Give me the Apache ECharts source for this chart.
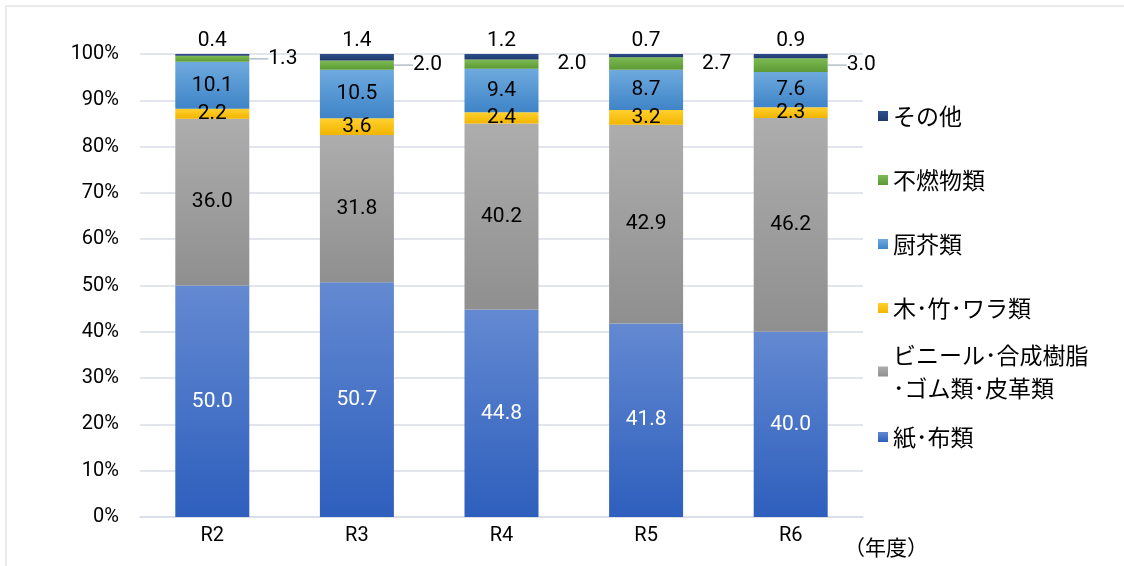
<!DOCTYPE html>
<html>
<head>
<meta charset="utf-8">
<script src="https://cdn.jsdelivr.net/npm/echarts@6/dist/echarts.min.js"></script>
<style>
html, body { margin: 0; padding: 0; background: #fff; }
#main { width: 1124px; height: 566px; }
</style>
</head>
<body>
<div id="main"></div>
<script>
// 年度別ごみ組成（%）
var years = ['R2', 'R3', 'R4', 'R5', 'R6'];
var kamiNuno  = [50.0, 50.7, 44.8, 41.8, 40.0];
var vinyl     = [36.0, 31.8, 40.2, 42.9, 46.2];
var mokuChiku = [2.2, 3.6, 2.4, 3.2, 2.3];
var chukai    = [10.1, 10.5, 9.4, 8.7, 7.6];
var funen     = [1.3, 2.0, 2.0, 2.7, 3.0];
var sonota    = [0.4, 1.4, 1.2, 0.7, 0.9];

var vinylName = 'ビニール･合成樹脂\n･ゴム類･皮革類';

function grad(top, bottom) {
    return new echarts.graphic.LinearGradient(0, 0, 0, 1, [
        {offset: 0, color: top},
        {offset: 1, color: bottom}
    ]);
}

function fmt(p) {
    return Number(p.value).toFixed(1);
}

var dom = document.getElementById('main');
var myChart = echarts.init(dom);
var labelFont = {fontFamily: 'Roboto, sans-serif', fontSize: 21, color: '#000', formatter: fmt};
var legendFont = {fontFamily: '"Noto Sans CJK JP", sans-serif', fontSize: 23, color: '#000'};

function bar(name, data, top, bottom, label) {
    return {
        name: name,
        type: 'bar',
        stack: 'total',
        barWidth: 74,
        itemStyle: {color: grad(top, bottom)},
        label: label,
        data: data
    };
}

var option = {
    animation: false,
    textStyle: {fontFamily: 'Roboto, "Noto Sans CJK JP", sans-serif'},
    graphic: [{
        type: 'rect',
        shape: {x: 6, y: 6, width: 1200, height: 600},
        style: {fill: 'none', stroke: '#e2e5ea', lineWidth: 1.5},
        silent: true
    }],
    grid: {left: 140, right: 261, top: 54, bottom: 49},
    legend: [
        {
            data: ['その他', '不燃物類', '厨芥類', '木･竹･ワラ類'],
            orient: 'vertical', left: 878, top: 104, padding: 0,
            itemGap: 40, itemWidth: 10, itemHeight: 10, icon: 'rect',
            textStyle: Object.assign({lineHeight: 24}, legendFont)
        },
        {
            data: [vinylName],
            orient: 'vertical', left: 878, top: 322, padding: 0,
            itemWidth: 10, itemHeight: 10, icon: 'rect',
            textStyle: Object.assign({lineHeight: 33, padding: [33, 0, 0, 0]}, legendFont)
        },
        {
            data: ['紙･布類'],
            orient: 'vertical', left: 878, top: 425, padding: 0,
            itemWidth: 10, itemHeight: 10, icon: 'rect',
            textStyle: Object.assign({lineHeight: 24}, legendFont)
        }
    ],
    xAxis: {
        type: 'category',
        data: years,
        axisTick: {show: false},
        axisLine: {lineStyle: {color: '#d9dee6', width: 1.5}},
        axisLabel: {color: '#000', fontSize: 20, margin: 9},
        name: '（年度）',
        nameLocation: 'end',
        nameGap: -19,
        nameTextStyle: {
            color: '#000', fontSize: 21, fontFamily: '"Noto Sans CJK JP", sans-serif',
            align: 'left', verticalAlign: 'top', padding: [20, 0, 0, 0]
        }
    },
    yAxis: {
        type: 'value',
        min: 0,
        max: 100,
        interval: 10,
        axisLine: {show: false},
        axisTick: {show: false},
        splitLine: {lineStyle: {color: '#d9dee6', width: 1.5}},
        axisLabel: {color: '#000', fontSize: 20, margin: 21, formatter: '{value}%'}
    },
    series: [
        bar('紙･布類', kamiNuno, '#6389d1', '#2e5fbd',
            Object.assign({show: true, position: 'inside'}, labelFont, {color: '#fff'})),
        bar(vinylName, vinyl, '#adadad', '#8f8f8f',
            Object.assign({show: true, position: 'inside'}, labelFont)),
        bar('木･竹･ワラ類', mokuChiku, '#ffd02e', '#f2b500',
            Object.assign({show: true, position: 'inside'}, labelFont)),
        bar('厨芥類', chukai, '#6eaade', '#3f84c7',
            Object.assign({show: true, position: 'inside'}, labelFont)),
        {
            name: '不燃物類',
            type: 'bar',
            stack: 'total',
            barWidth: 74,
            itemStyle: {color: grad('#7cba52', '#5d9a35')},
            label: Object.assign({show: true, position: 'right', distance: 0, padding: [0, 0, 0, 6]}, labelFont),
            labelLayout: {dx: 13},
            labelLine: {show: true, lineStyle: {color: '#b4bfcc', width: 1.5}},
            data: funen.map(function (v, i) {
                return {value: v, labelLine: {show: i !== 2 && i !== 3}};
            })
        },
        bar('その他', sonota, '#2e4e8a', '#1f3a6c',
            Object.assign({show: true, position: 'top', distance: 3}, labelFont))
    ]
};

myChart.setOption(option, true);
window.onresize = myChart.resize;
</script>
</body>
</html>
